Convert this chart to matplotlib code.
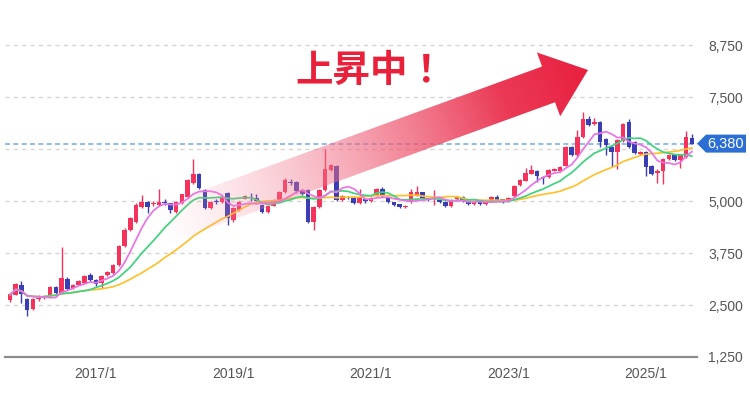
import numpy as np
import pandas as pd
import matplotlib
matplotlib.use("Agg")
import matplotlib.pyplot as plt
from matplotlib.patches import Polygon

# ---------------- data (monthly candles, 2015/10 .. 2025/9) ----------------
opens = [2620, 2750, 2980, 2640, 2400, 2640, 2670, 2710, 2920, 2780,
         3120, 2900, 2990, 3040, 3220, 3100, 3020, 3210, 3270, 3450,
         3920, 4300, 4500, 4860, 4980, 4920, 4900, 4980, 4940, 4740,
         4950, 5100, 5440, 5650, 5260, 4830, 5000, 4980, 5190, 4550,
         4780, 5060, 5100, 5070, 4900, 4740, 4890, 5030, 5220, 5460,
         5440, 5260, 5260, 4500, 4860, 5260, 5750, 5840, 5020, 5100,
         5100, 4950, 5040, 4990, 5150, 5280, 5080, 4960, 4920, 4850,
         4980, 5150, 5200, 5060, 5040, 5020, 4980, 4880, 5040, 5100,
         4990, 4920, 4970, 4930, 5000, 5100, 5040, 4990, 5120, 5390,
         5490, 5660, 5720, 5580, 5570, 5730, 5720, 5850, 6300, 6110,
         6540, 6960, 6850, 6900, 6480, 6300, 6190, 6450, 6900, 6420,
         6120, 6170, 5830, 5680, 5730, 6010, 6100, 5980, 6050, 6500]
closes = [2750, 3000, 2760, 2380, 2640, 2660, 2690, 2920, 2800, 3140,
          2880, 2980, 3060, 3180, 3100, 3000, 3200, 3280, 3450, 3900,
          4300, 4590, 4900, 4980, 4860, 4950, 4960, 4960, 4780, 4980,
          5150, 5490, 5650, 5310, 4830, 4980, 4980, 5080, 4590, 4830,
          4980, 5120, 5070, 4990, 4740, 4870, 5010, 5220, 5500, 5440,
          5230, 5180, 4500, 4860, 5260, 5750, 5850, 5020, 5120, 5070,
          4950, 5100, 4990, 5060, 5280, 5130, 4980, 4900, 4850, 4880,
          5220, 5200, 5060, 5020, 5060, 4980, 4880, 5020, 5080, 5000,
          4920, 4960, 4930, 4960, 5080, 5030, 4970, 5060, 5360, 5500,
          5660, 5740, 5590, 5550, 5730, 5760, 5800, 6300, 6100, 6540,
          6960, 6830, 6900, 6430, 6350, 6190, 6450, 6850, 6300, 6160,
          6180, 5810, 5650, 5720, 6010, 6100, 5980, 6100, 6540, 6380]
highs = [2800, 3040, 3080, 2660, 2680, 2730, 2740, 2960, 2950, 3890,
         3180, 3010, 3090, 3210, 3260, 3130, 3230, 3310, 3480, 3950,
         4340, 4620, 4950, 5140, 5010, 4990, 5290, 5060, 4960, 5000,
         5180, 5520, 6000, 5680, 5290, 5010, 5060, 5110, 5220, 4860,
         5010, 5150, 5200, 5160, 4920, 4900, 5040, 5250, 5560, 5520,
         5470, 5290, 5300, 4890, 5290, 6260, 5880, 5870, 5150, 5130,
         5120, 5300, 5070, 5090, 5310, 5330, 5100, 4980, 4940, 4900,
         5280, 5350, 5220, 5080, 5270, 5040, 5000, 5050, 5110, 5130,
         5010, 4980, 4990, 4980, 5110, 5150, 5060, 5090, 5390, 5530,
         5800, 5860, 5750, 5600, 5760, 5790, 5830, 6330, 6330, 6700,
         7150, 7050, 7000, 6930, 6510, 6330, 6480, 6880, 6980, 6450,
         6210, 6200, 5860, 5760, 6040, 6130, 6130, 6130, 6680, 6620]
lows = [2580, 2730, 2560, 2240, 2380, 2590, 2640, 2690, 2760, 2760,
        2850, 2880, 2970, 3020, 3080, 2960, 2900, 3190, 3250, 3430,
        3900, 4280, 4480, 4840, 4700, 4880, 4880, 4900, 4700, 4720,
        4930, 5080, 5420, 5280, 4800, 4800, 4920, 4960, 4420, 4500,
        4760, 5040, 5000, 4960, 4700, 4720, 4870, 5010, 5200, 5380,
        5200, 5150, 4480, 4300, 4840, 5240, 5730, 5000, 4990, 5040,
        4920, 4930, 4960, 4970, 5130, 5100, 4950, 4880, 4830, 4830,
        4960, 5130, 5040, 5000, 4900, 4960, 4860, 4860, 5020, 4980,
        4900, 4900, 4910, 4910, 4980, 5010, 4950, 4970, 5100, 5370,
        5470, 5640, 5450, 5420, 5550, 5710, 5700, 5830, 6080, 6090,
        6520, 6800, 6830, 6300, 6100, 5820, 5780, 6430, 6280, 6130,
        6100, 5600, 5620, 5440, 5400, 5990, 5960, 5800, 6030, 6360]

tick_pos = [15, 39, 63, 87, 111]
tick_labels = ["2017/1", "2019/1", "2021/1", "2023/1", "2025/1"]
y_ticks = [1250, 2500, 3750, 5000, 6250, 7500, 8750]
y_labels = ["1,250", "2,500", "3,750", "5,000", "", "7,500", "8,750"]
ma_windows = [24, 12, 6]
title_text = "上昇中！"

# ---------------- styling ----------------
UP = "#f5325c"
DOWN = "#3a3db3"
MA_COLORS = {6: "#ea73e6", 12: "#3fd27f", 24: "#ffc02e"}
W, H = 750, 394

fig = plt.figure(figsize=(W / 100, H / 100), dpi=100)
fig.patch.set_facecolor("white")
ax = fig.add_axes([5 / W, 37 / H, 692 / W, 335 / H])
ax.set_facecolor("white")

n = len(closes)
x = np.arange(n)
o = np.array(opens, float)
c = np.array(closes, float)
hi = np.array(highs, float)
lo = np.array(lows, float)
up = c >= o
cols = np.where(up, UP, DOWN)

# grid
for yt in y_ticks[1:]:
    ax.axhline(yt, color="#d6d6d6", lw=1.0, ls=(0, (3, 3)), zorder=0)

# moving averages
s = pd.Series(c)
for w_ in ma_windows:
    ma = s.rolling(w_, min_periods=1).mean()
    ax.plot(x, ma, color=MA_COLORS[w_], lw=1.25, zorder=3)

# candles
ax.vlines(x, lo, hi, colors=cols, lw=1.0, zorder=2)
ax.bar(x, np.abs(c - o) + 8, bottom=np.minimum(o, c), width=0.8, color=cols,
       zorder=2.5, linewidth=0)

# last price line
last = closes[-1]
ax.axhline(last, color="#7db0ee", lw=1.2, ls=(0, (3, 2)), zorder=1)

ax.set_xlim(-0.873, 119.9)
ax.set_ylim(1250, 1250 + 335 * 24.04)

for sp in ["top", "left", "right"]:
    ax.spines[sp].set_visible(False)
ax.spines["bottom"].set_color("#8c8c8c")
ax.spines["bottom"].set_linewidth(1.6)

ax.yaxis.tick_right()
ax.set_yticks(y_ticks)
ax.set_yticklabels(y_labels)
ax.set_xticks(tick_pos)
ax.set_xticklabels(tick_labels)
ax.tick_params(axis="y", length=0, pad=8, labelsize=10, labelcolor="#555555")
ax.tick_params(axis="x", length=0, pad=7, labelsize=10, labelcolor="#555555")
for lab in ax.get_xticklabels() + ax.get_yticklabels():
    lab.set_fontfamily("Liberation Sans")

# ---------------- overlay (arrow, headline, price tag) ----------------
ov = fig.add_axes([0, 0, 1, 1])
ov.set_xlim(0, W)
ov.set_ylim(H, 0)
ov.axis("off")
ov.patch.set_alpha(0)

T = np.array([160.0, 226.0])
tip = np.array([588.0, 70.0])
d = tip - T
L = np.hypot(*d)
d = d / L
nrm = np.array([-d[1], d[0]])
if nrm[1] < 0:
    nrm = -nrm
wsh, whd, hl = 19.0, 34.0, 42.0
B = T + (L - hl) * d
pts = [T - wsh * nrm, B - wsh * nrm, B - whd * nrm, tip, B + whd * nrm,
       B + wsh * nrm, T + wsh * nrm]
poly = Polygon(pts, closed=True, facecolor="none", edgecolor="none")
ov.add_patch(poly)

gx0, gx1, gy0, gy1 = 140, 600, 30, 260
gx = np.linspace(gx0, gx1, 460)
gy = np.linspace(gy0, gy1, 230)
GX, GY = np.meshgrid(gx, gy)
t = ((GX - T[0]) * d[0] + (GY - T[1]) * d[1]) / L
t = np.clip(t, 0, 1)
c0 = np.array(matplotlib.colors.to_rgb("#f7a3b3"))
c1 = np.array(matplotlib.colors.to_rgb("#e8203f"))
rgba = np.zeros(GX.shape + (4,))
for k in range(3):
    rgba[..., k] = c0[k] + (c1[k] - c0[k]) * t
rgba[..., 3] = np.clip(t * 1.25, 0, 1) ** 0.95
im = ov.imshow(rgba, extent=[gx0, gx1, gy1, gy0], origin="upper",
               interpolation="bilinear", zorder=5, aspect="auto")
im.set_clip_path(poly)
ov.set_xlim(0, W)
ov.set_ylim(H, 0)

ov.text(370, 70, title_text, color="#e8203a", fontsize=27, fontweight="bold",
        family=["Noto Sans CJK JP", "DejaVu Sans"], ha="center", va="center",
        zorder=6)

# price tag
fig.canvas.draw()
py = H - ax.transData.transform((0, last))[1]
tag = Polygon([(697, py), (706, py - 9), (746, py - 9), (746, py + 9),
               (706, py + 9)], closed=True, facecolor="#2b6fd4",
              edgecolor="none", zorder=6)
ov.add_patch(tag)
ov.text(726, py + 0.5, f"{last:,}", color="white", fontsize=10.5,
        family="Liberation Sans", ha="center", va="center", zorder=7)

fig.savefig("out.png", dpi=100)
